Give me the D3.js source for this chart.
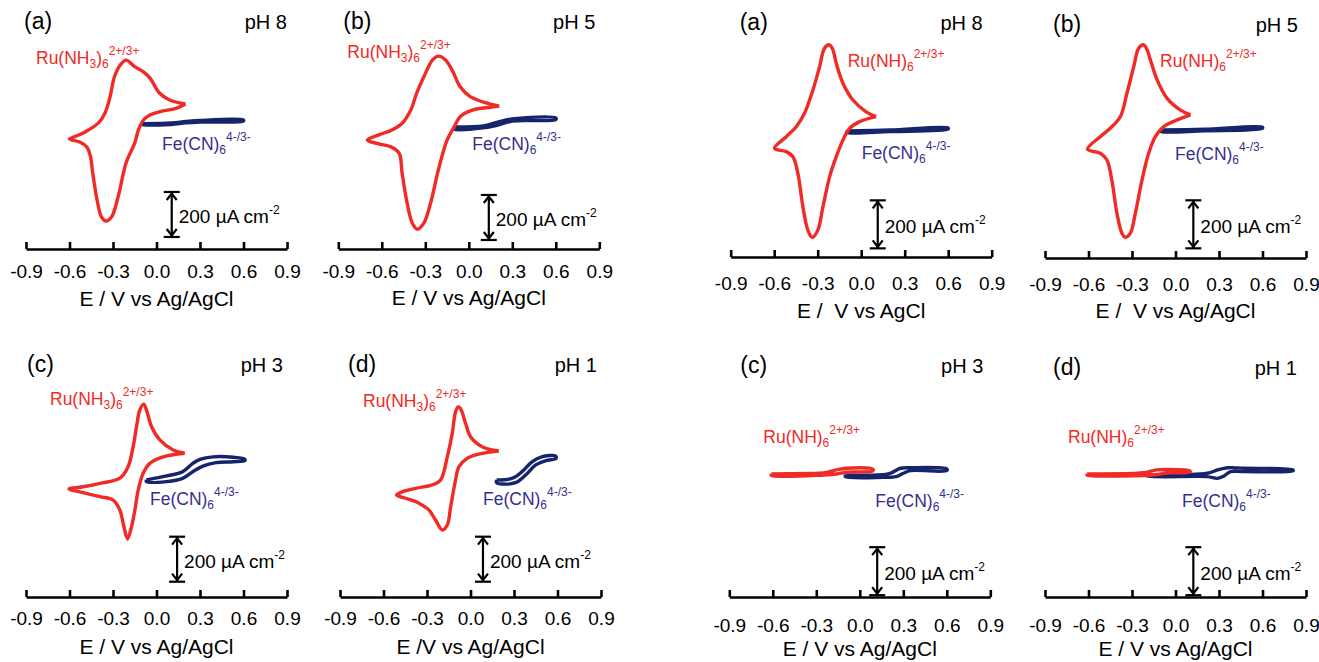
<!DOCTYPE html>
<html>
<head>
<meta charset="utf-8">
<script src="https://cdnjs.cloudflare.com/ajax/libs/d3/7.8.5/d3.min.js"></script>
<style>
  body { margin: 0; background: #fff; }
  svg { display: block; font-family: "Liberation Sans", Arial, Helvetica, sans-serif; }
</style>
</head>
<body>
<div id="chart"></div>
<script>
// potential ticks (V vs Ag/AgCl)
const xTicks = [-0.9, -0.6, -0.3, 0.0, 0.3, 0.6, 0.9];

// cyclic voltammograms, [E (V), j (uA cm-2)], closed loops
// left figure: Ru(NH3)6 2+/3+ and Fe(CN)6 4-/3-
const leftRu8 = [[0.20,80],[0.09,98],[0.02,129],[-0.045,195],[-0.09,223],[-0.15,246],[-0.21,275],[-0.25,253],[-0.29,201],[-0.32,113],[-0.355,40],[-0.40,-4],[-0.49,-43],[-0.585,-71],[-0.60,-76],[-0.53,-89],[-0.48,-111],[-0.455,-155],[-0.44,-226],[-0.41,-346],[-0.38,-422],[-0.35,-440],[-0.31,-422],[-0.265,-333],[-0.21,-182],[-0.15,-93],[-0.125,-36],[-0.09,9],[-0.045,31],[0.025,46],[0.14,62],[0.20,80]];
const leftFe8 = [[-0.10,-7],[0.10,-4],[0.20,2],[0.30,7],[0.60,9],[0.60,4],[0.30,0],[0.20,-4],[0.10,-11],[-0.10,-11],[-0.10,-7]];

const leftRu5 = [[0.21,84],[0.13,96],[0.01,126],[-0.06,170],[-0.11,237],[-0.16,289],[-0.21,306],[-0.25,289],[-0.31,214],[-0.36,141],[-0.40,67],[-0.46,8],[-0.53,-22],[-0.62,-44],[-0.70,-67],[-0.62,-84],[-0.54,-96],[-0.48,-126],[-0.46,-214],[-0.425,-348],[-0.39,-436],[-0.356,-463],[-0.31,-436],[-0.264,-348],[-0.21,-200],[-0.15,-67],[-0.10,-8],[-0.06,37],[0.03,67],[0.15,79],[0.21,84]];
const leftFe5 = [[-0.10,-9],[0.10,-4],[0.20,13],[0.30,27],[0.60,31],[0.60,24],[0.30,18],[0.20,0],[0.10,-13],[-0.10,-18],[-0.10,-9]];

const leftRu3 = [[0.195,119],[0.115,133],[0.023,178],[-0.034,237],[-0.069,311],[-0.088,337],[-0.115,311],[-0.138,237],[-0.161,148],[-0.196,59],[-0.253,8],[-0.39,-15],[-0.506,-30],[-0.603,-40],[-0.506,-56],[-0.39,-74],[-0.299,-89],[-0.253,-133],[-0.225,-207],[-0.20,-262],[-0.172,-207],[-0.149,-133],[-0.126,-44],[-0.092,30],[-0.046,74],[0.046,103],[0.195,119]];
const leftFe3 = [[-0.07,0],[0.07,18],[0.18,37],[0.25,74],[0.30,92],[0.39,103],[0.53,101],[0.61,92],[0.61,86],[0.53,81],[0.41,77],[0.32,62],[0.25,37],[0.18,7],[0.07,-7],[-0.07,-7],[-0.07,0]];

const leftRu1 = [[0.195,129],[0.08,148],[0.0,192],[-0.034,252],[-0.069,318],[-0.085,325],[-0.103,303],[-0.126,207],[-0.16,103],[-0.206,0],[-0.264,-22],[-0.378,-37],[-0.47,-52],[-0.51,-67],[-0.447,-81],[-0.356,-103],[-0.287,-133],[-0.241,-178],[-0.195,-222],[-0.16,-200],[-0.137,-119],[-0.103,0],[-0.08,59],[-0.023,96],[0.057,115],[0.195,129]];
const leftFe1 = [[0.18,0],[0.29,8],[0.355,37],[0.424,81],[0.49,103],[0.585,107],[0.59,96],[0.52,86],[0.45,67],[0.38,22],[0.31,-12],[0.22,-18],[0.18,-12],[0.18,0]];

// right figure: Ru(NH)6 2+/3+ and Fe(CN)6 4-/3-
const rightRu8 = [[0.103,60],[0.034,80],[-0.057,129],[-0.126,199],[-0.172,282],[-0.195,338],[-0.219,359],[-0.253,345],[-0.287,268],[-0.333,171],[-0.391,74],[-0.448,18],[-0.517,-24],[-0.598,-72],[-0.517,-86],[-0.471,-107],[-0.437,-176],[-0.402,-316],[-0.368,-413],[-0.338,-443],[-0.299,-413],[-0.264,-316],[-0.218,-191],[-0.172,-107],[-0.126,-38],[-0.08,11],[-0.011,39],[0.103,60]];
const rightFe8 = [[-0.10,0],[0.20,4],[0.60,13],[0.60,8],[0.20,-2],[-0.10,-6],[-0.10,0]];

const rightRu5 = [[0.104,63],[0.035,83],[-0.058,132],[-0.127,209],[-0.173,292],[-0.196,334],[-0.219,355],[-0.254,341],[-0.288,264],[-0.335,153],[-0.381,55],[-0.45,7],[-0.519,-28],[-0.607,-80],[-0.519,-97],[-0.473,-125],[-0.439,-209],[-0.404,-347],[-0.369,-431],[-0.346,-447],[-0.312,-431],[-0.277,-347],[-0.231,-209],[-0.185,-97],[-0.139,-28],[-0.081,14],[0.012,42],[0.104,63]];
const rightFe5 = [[-0.10,0],[0.20,3],[0.60,12],[0.60,7],[0.20,-3],[-0.10,-6],[-0.10,0]];

const rightRu3 = [[-0.61,0],[-0.35,2],[-0.25,4],[-0.16,17],[-0.09,24],[0.09,20],[0.09,13],[-0.09,8],[-0.16,0],[-0.25,-4],[-0.61,-6],[-0.61,0]];
const rightFe3 = [[-0.10,-4],[0.12,-4],[0.21,3],[0.28,24],[0.35,26],[0.60,21],[0.60,14],[0.35,14],[0.30,3],[0.25,-11],[0.16,-14],[-0.10,-11],[-0.10,-4]];

const rightRu1 = [[-0.61,0],[-0.30,2],[-0.22,5],[-0.13,17],[-0.06,19],[0.10,13],[0.10,8],[-0.06,4],[-0.13,-2],[-0.22,-6],[-0.61,-4],[-0.61,0]];
const rightFe1 = [[-0.20,-4],[0.22,3],[0.29,17],[0.36,26],[0.47,24],[0.81,17],[0.81,13],[0.47,10],[0.38,10],[0.335,-8],[0.29,-18],[0.22,-11],[-0.20,-8],[-0.20,-4]];

const SCALE_BAR = 200; // uA cm-2

// panel layout (pixels), kept apart from the data
const panels = [
  { tag: '(a)', ph: 'pH 8', ox: 26,    axisY: 249, y0: 122, barPx: 45, barE: 0.105, barBase: -511, ru: leftRu8,  fe: leftFe8,  nh3: true,  tagPos: [-2, -220], phDx: 261, ruPos: [10, -185], fePos: [136, -99], tickPad: 16, titleDy: 57, title: 'E / V vs Ag/AgCl' },
  { tag: '(b)', ph: 'pH 5', ox: 338.3, axisY: 249, y0: 125, barPx: 45, barE: 0.138, barBase: -511, ru: leftRu5,  fe: leftFe5,  nh3: true,  tagPos: [5, -220],  phDx: 257, ruPos: [9, -191],  fePos: [134, -99], tickPad: 16, titleDy: 56, title: 'E / V vs Ag/AgCl' },
  { tag: '(c)', ph: 'pH 3', ox: 26,    axisY: 597, y0: 480, barPx: 45, barE: 0.142, barBase: -452, ru: leftRu3,  fe: leftFe3,  nh3: true,  tagPos: [1, -225],  phDx: 257, ruPos: [24, -192], fePos: [124, -92], tickPad: 15, titleDy: 57, title: 'E / V vs Ag/AgCl' },
  { tag: '(d)', ph: 'pH 1', ox: 340,   axisY: 597, y0: 480, barPx: 45, barE: 0.086, barBase: -452, ru: leftRu1,  fe: leftFe1,  nh3: true,  tagPos: [8, -225],  phDx: 257, ruPos: [23, -190], fePos: [143, -92], tickPad: 15, titleDy: 57, title: 'E /V vs Ag/AgCl' },
  { tag: '(a)', ph: 'pH 8', ox: 730.7, axisY: 257, y0: 131, barPx: 48, barE: 0.114, barBase: -489, ru: rightRu8, fe: rightFe8, nh3: false, tagPos: [9, -227],  phDx: 252, ruPos: [117, -190], fePos: [131, -98], tickPad: 20, titleDy: 61, title: 'E /  V vs AgCl' },
  { tag: '(b)', ph: 'pH 5', ox: 1045,  axisY: 258, y0: 130, barPx: 48, barE: 0.123, barBase: -493, ru: rightRu5, fe: rightFe5, nh3: false, tagPos: [8, -226],  phDx: 253, ruPos: [115, -191], fePos: [130, -98], tickPad: 20, titleDy: 60, title: 'E /  V vs Ag/AgCl' },
  { tag: '(c)', ph: 'pH 3', ox: 729.3, axisY: 597, y0: 474, barPx: 48, barE: 0.12,  barBase: -505, ru: rightRu3, fe: rightFe3, nh3: false, tagPos: [11, -224], phDx: 254, ruPos: [34, -154],  fePos: [146, -90], tickPad: 22, titleDy: 59, title: 'E / V vs Ag/AgCl' },
  { tag: '(d)', ph: 'pH 1', ox: 1045,  axisY: 597, y0: 474, barPx: 48, barE: 0.123, barBase: -505, ru: rightRu1, fe: rightFe1, nh3: false, tagPos: [8, -222],  phDx: 252, ruPos: [23, -154],  fePos: [137, -90], tickPad: 22, titleDy: 59, title: 'E / V vs Ag/AgCl' }
];

const width = 1319, height = 662;
const RED = '#f02a25', NAVY = '#16256b', FE_TEXT = '#372f8c';

const svg = d3.select('#chart').append('svg')
  .attr('width', width)
  .attr('height', height);

panels.forEach(p => {
  const g = svg.append('g');

  const x = d3.scaleLinear().domain([-0.9, 0.9]).range([p.ox, p.ox + 261]);
  const y = d3.scaleLinear().domain([0, SCALE_BAR]).range([p.y0, p.y0 - p.barPx]);

  // axis with upward ticks, labels below
  const axis = g.append('g')
    .attr('transform', `translate(0,${p.axisY})`)
    .call(d3.axisBottom(x)
      .tickValues(xTicks)
      .tickSizeInner(-7)
      .tickSizeOuter(0)
      .tickPadding(p.tickPad)
      .tickFormat(d => d.toFixed(1)));
  axis.attr('font-family', null).attr('font-size', null);
  axis.select('.domain').attr('stroke', '#000').attr('stroke-width', 2.6);
  axis.selectAll('.tick line').attr('stroke', '#000').attr('stroke-width', 2.6);
  axis.selectAll('.tick text').attr('fill', '#000').style('font-size', '19px');

  // axis title
  g.append('text')
    .attr('x', x(0))
    .attr('y', p.axisY + p.titleDy)
    .attr('text-anchor', 'middle')
    .style('font-size', '21px')
    .style('white-space', 'pre')
    .text(p.title);

  // panel tag and pH
  g.append('text')
    .attr('x', p.ox + p.tagPos[0])
    .attr('y', p.axisY + p.tagPos[1])
    .style('font-size', '23px')
    .text(p.tag);
  g.append('text')
    .attr('x', p.ox + p.phDx)
    .attr('y', p.axisY + p.tagPos[1])
    .attr('text-anchor', 'end')
    .style('font-size', '20px')
    .text(p.ph);

  // curves
  const line = d3.line()
    .x(d => x(d[0]))
    .y(d => y(d[1]))
    .curve(d3.curveCatmullRom.alpha(0.5));

  g.append('path')
    .datum(p.fe)
    .attr('d', line)
    .attr('fill', 'none')
    .attr('stroke', NAVY)
    .attr('stroke-width', 3.4)
    .attr('stroke-linejoin', 'round');

  g.append('path')
    .datum(p.ru)
    .attr('d', line)
    .attr('fill', 'none')
    .attr('stroke', RED)
    .attr('stroke-width', 3.4)
    .attr('stroke-linejoin', 'round');

  // Ru label
  const ru = g.append('text')
    .attr('x', p.ox + p.ruPos[0])
    .attr('y', p.axisY + p.ruPos[1])
    .attr('fill', RED)
    .style('font-size', '17.5px');
  if (p.nh3) {
    ru.append('tspan').text('Ru(NH');
    ru.append('tspan').attr('dy', 4).style('font-size', '12px').text('3');
    ru.append('tspan').attr('dy', -4).text(')');
  } else {
    ru.append('tspan').text('Ru(NH)');
  }
  ru.append('tspan').attr('dy', 4).style('font-size', '12px').text('6');
  ru.append('tspan').attr('dy', -13).style('font-size', '12px').text('2+/3+');

  // Fe label
  const fe = g.append('text')
    .attr('x', p.ox + p.fePos[0])
    .attr('y', p.axisY + p.fePos[1])
    .attr('fill', FE_TEXT)
    .style('font-size', '17.5px');
  fe.append('tspan').text('Fe(CN)');
  fe.append('tspan').attr('dy', 4).style('font-size', '12px').text('6');
  fe.append('tspan').attr('dy', -13).style('font-size', '12px').text('4-/3-');

  // 200 uA cm-2 scale bar
  const bx = x(p.barE), yt = y(p.barBase + SCALE_BAR), yb = y(p.barBase);
  const bar = g.append('g')
    .attr('stroke', '#000')
    .attr('stroke-width', 2.2)
    .attr('fill', 'none');
  bar.append('line').attr('x1', bx).attr('x2', bx).attr('y1', yt).attr('y2', yb);
  bar.append('line').attr('x1', bx - 8).attr('x2', bx + 8).attr('y1', yt).attr('y2', yt);
  bar.append('line').attr('x1', bx - 8).attr('x2', bx + 8).attr('y1', yb).attr('y2', yb);
  bar.append('path').attr('d', `M${bx - 5},${yt + 8}L${bx},${yt + 1.5}L${bx + 5},${yt + 8}`);
  bar.append('path').attr('d', `M${bx - 5},${yb - 8}L${bx},${yb - 1.5}L${bx + 5},${yb - 8}`);

  const lab = g.append('text')
    .attr('x', bx + 7)
    .attr('y', (yt + yb) / 2 + 9)
    .style('font-size', '19px');
  lab.append('tspan').text('200 \u00b5A cm');
  lab.append('tspan').attr('dy', -9).style('font-size', '12px').text('-2');
});
</script>
</body>
</html>
